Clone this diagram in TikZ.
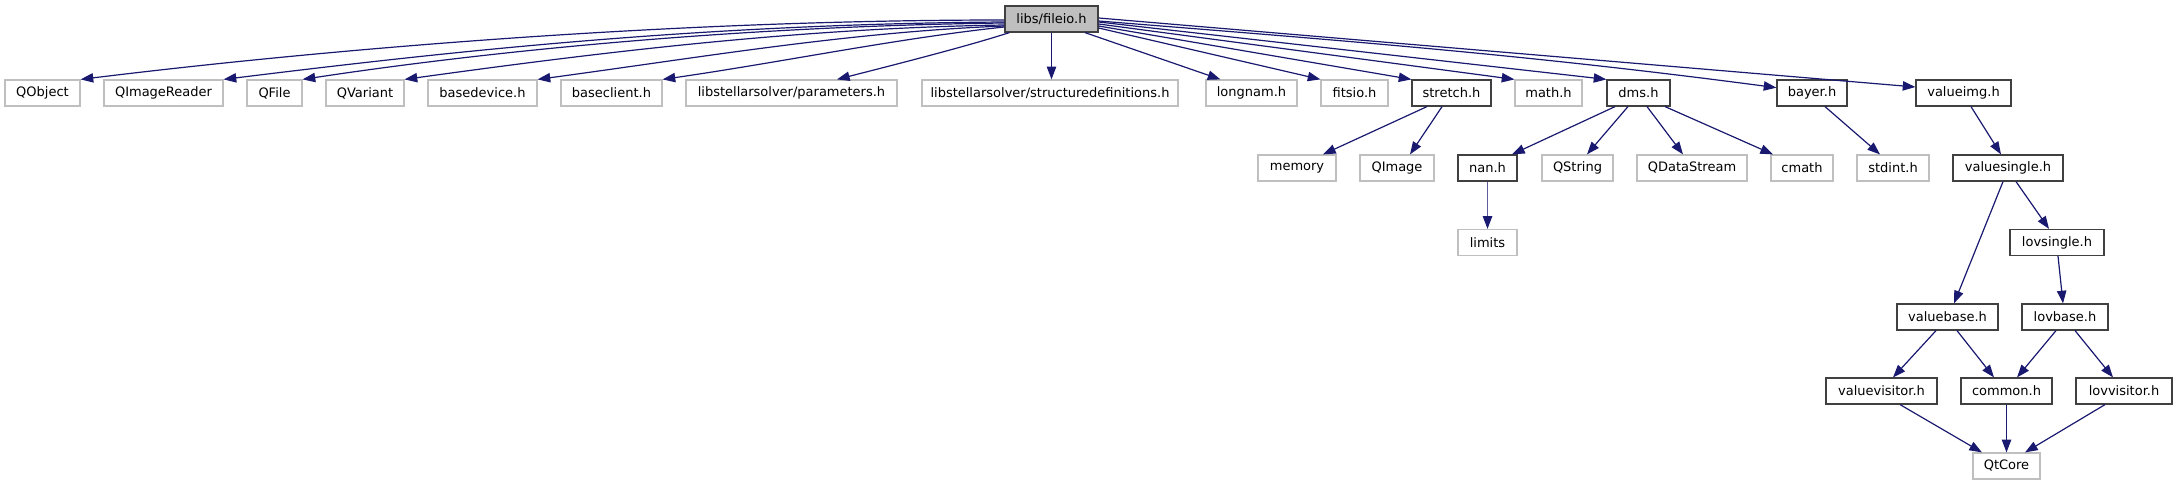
\documentclass[tikz,border=0pt]{standalone}
\usepackage{fontspec}
\setmainfont{DejaVu Sans}
\usetikzlibrary{arrows.meta,calc}
\definecolor{edgeblue}{RGB}{25,25,112}
\definecolor{grayline}{RGB}{191,191,191}
\definecolor{darkline}{RGB}{64,64,64}
\definecolor{rootfill}{RGB}{191,191,191}
\tikzset{
  basebox/.style={rectangle,inner sep=0pt,minimum height=19.5pt,line width=0.9pt,
    font=\fontsize{9.75}{11.7}\selectfont,fill=white},
  extbox/.style={basebox,draw=grayline},
  docbox/.style={basebox,draw=darkline},
  rootbox/.style={basebox,draw=darkline,fill=rootfill},
  bw/.style={minimum width=#1*0.75pt},
  dep/.style={draw=edgeblue,line width=0.9pt,-{Triangle[length=9.5pt,width=7pt]}},
  deplight/.style={draw=edgeblue!70!white,line width=0.9pt,-{Triangle[length=9.5pt,width=7pt,color=edgeblue]}}
}
\begin{document}
\begin{tikzpicture}[x=0.75pt,y=-0.75pt]
\useasboundingbox (0,0) rectangle (2177,485);
% root
\node[rootbox,bw=93] (root) at (1051.5,19) {libs/fileio.h};
% first row
\node[extbox,bw=75] (QObject) at (42.5,93) {QObject};
\node[extbox,bw=119] (QImageReader) at (163.5,93) {QImageReader};
\node[extbox,bw=55] (QFile) at (274.5,93) {QFile};
\node[extbox,bw=78] (QVariant) at (365,93) {QVariant};
\node[extbox,bw=109] (basedevice) at (482.5,93) {basedevice.h};
\node[extbox,bw=101] (baseclient) at (611.5,93) {baseclient.h};
\node[extbox,bw=211] (params) at (791.5,93) {libstellarsolver/parameters.h};
\node[extbox,bw=256] (structdefs) at (1050,93) {libstellarsolver/structuredefinitions.h};
\node[extbox,bw=91] (longnam) at (1251.5,93) {longnam.h};
\node[extbox,bw=67] (fitsio) at (1354.5,93) {fitsio.h};
\node[docbox,bw=79] (stretch) at (1451.5,93) {stretch.h};
\node[extbox,bw=67] (math) at (1548.5,93) {math.h};
\node[docbox,bw=63] (dms) at (1638.5,93) {dms.h};
\node[docbox,bw=70] (bayer) at (1812,93) {bayer.h};
\node[docbox,bw=95] (valueimg) at (1963.5,93) {valueimg.h};
% second row
\node[extbox,bw=78] (memory) at (1297,168) {memory};
\node[extbox,bw=74] (QImage) at (1397,168) {QImage};
\node[docbox,bw=59] (nan) at (1487.5,168) {nan.h};
\node[extbox,bw=71] (QString) at (1577.5,168) {QString};
\node[extbox,bw=110] (QDataStream) at (1692,168) {QDataStream};
\node[extbox,bw=62] (cmath) at (1802,168) {cmath};
\node[extbox,bw=72] (stdint) at (1893,168) {stdint.h};
\node[docbox,bw=110] (valuesingle) at (2008,168) {valuesingle.h};
% third row
\node[extbox,bw=59] (limits) at (1487.5,242.5) {limits};
\node[docbox,bw=94] (lovsingle) at (2057,242.5) {lovsingle.h};
% fourth row
\node[docbox,bw=101] (valuebase) at (1947.5,317) {valuebase.h};
\node[docbox,bw=86] (lovbase) at (2065,317) {lovbase.h};
% fifth row
\node[docbox,bw=111] (valuevisitor) at (1881.5,391) {valuevisitor.h};
\node[docbox,bw=91] (common) at (2006.5,391) {common.h};
\node[docbox,bw=96] (lovvisitor) at (2124,391) {lovvisitor.h};
% sixth row
\node[extbox,bw=67] (QtCore) at (2006.5,466) {QtCore};

% edges from root, left side
\draw[dep] ([yshift=-0.75pt]root.west) .. controls +(-355,0) and +(220,-27) .. (QObject.north east);
\draw[dep] ([yshift=-2.25pt]root.west) .. controls +(-305,2) and +(227,-28) .. (QImageReader.north east);
\draw[dep] ([yshift=-3pt]root.west) .. controls +(-255,3) and +(198,-30) .. (QFile.north east);
\draw[dep] ([yshift=-4.5pt]root.west) .. controls +(-205,3) and +(195,-27) .. (QVariant.north east);
\draw[dep] ([yshift=-5.25pt]root.west) .. controls +(-155,6) and +(163,-22) .. (basedevice.north east);
\draw[dep] ([yshift=-6pt]root.west) .. controls +(-105,11) and +(118,-17) .. (baseclient.north east);
\draw[dep] ([xshift=3.75pt]root.south west) .. controls +(-40,13) and +(63,-16) .. ([xshift=34.1pt]params.north);
\draw[dep] (root.south) -- (root.south |- structdefs.north);
% edges from root, right side
\draw[dep] ([xshift=25.1pt]root.south) -- ([xshift=11.25pt]longnam.north west);
\draw[dep] ([yshift=-6.75pt]root.east) -- (fitsio.north west);
\draw[dep] ([yshift=-5.25pt]root.east) -- (stretch.north west);
\draw[dep] ([yshift=-3.75pt]root.east) -- (math.north west);
\draw[dep] ([yshift=-2.25pt]root.east) -- (dms.north west);
\draw[dep] ([yshift=-1.5pt]root.east) .. controls +(250,20) and +(-250,-33) .. ([yshift=4pt]bayer.west);
\draw[dep] ([yshift=0.75pt]root.east) -- ([yshift=4.5pt]valueimg.west);
% lower edges
\draw[dep] ([xshift=-18.4pt]stretch.south) -- ([xshift=19.5pt]memory.north);
\draw[dep] ([xshift=-7.1pt]stretch.south) -- ([xshift=9.75pt]QImage.north);
\draw[dep] ([xshift=-17.6pt]dms.south) -- ([xshift=18.4pt]nan.north);
\draw[dep] ([xshift=-7.9pt]dms.south) -- ([xshift=7.1pt]QString.north);
\draw[dep] ([xshift=6.4pt]dms.south) -- ([xshift=-6.75pt]QDataStream.north);
\draw[dep] ([xshift=19.9pt]dms.south) -- ([xshift=-21.75pt]cmath.north);
\draw[dep] ([xshift=9.75pt]bayer.south) -- ([xshift=-9.75pt]stdint.north);
\draw[dep] ([xshift=5.6pt]valueimg.south) -- ([xshift=-5.25pt]valuesingle.north);
\draw[deplight] (nan.south) -- (limits.north);
\draw[dep] ([xshift=-3.75pt]valuesingle.south) -- ([xshift=4.9pt]valuebase.north);
\draw[dep] ([xshift=6pt]valuesingle.south) -- ([xshift=-6pt]lovsingle.north);
\draw[dep] ([xshift=0.75pt]lovsingle.south) -- ([xshift=-1.5pt]lovbase.north);
\draw[dep] ([xshift=-8.6pt]valuebase.south) -- ([xshift=8.6pt]valuevisitor.north);
\draw[dep] ([xshift=7.1pt]valuebase.south) -- ([xshift=-9.4pt]common.north);
\draw[dep] ([xshift=-6.75pt]lovbase.south) -- ([xshift=7.9pt]common.north);
\draw[dep] ([xshift=7.5pt]lovbase.south) -- ([xshift=-8.25pt]lovvisitor.north);
\draw[dep] ([xshift=13.9pt]valuevisitor.south) -- ([xshift=-18.4pt]QtCore.north);
\draw[dep] (common.south) -- (QtCore.north);
\draw[dep] ([xshift=-14.25pt]lovvisitor.south) -- ([xshift=13.9pt]QtCore.north);
\end{tikzpicture}
\end{document}
